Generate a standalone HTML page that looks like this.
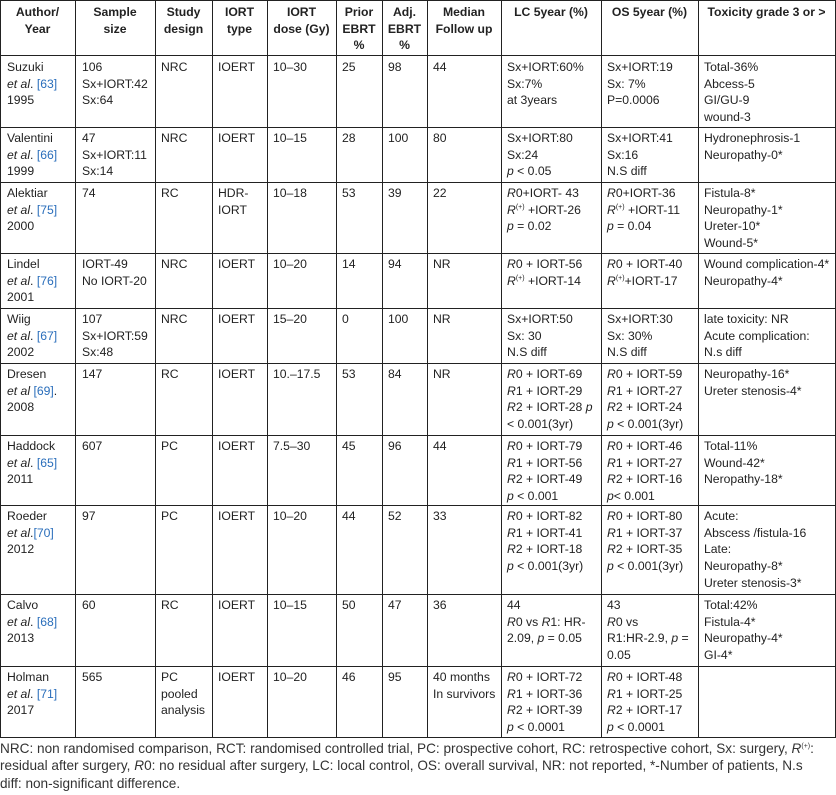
<!DOCTYPE html>
<html><head><meta charset="utf-8">
<style>
html,body{margin:0;padding:0;background:#fff;}
#w{position:relative;width:836px;height:795px;overflow:hidden;font-family:"Liberation Sans",Arial,sans-serif;font-size:12.2px;line-height:16.7px;color:#222;}
.v{position:absolute;top:0;height:738px;width:1px;background:#222;}
.h{position:absolute;left:0;width:836px;height:1px;background:#222;}
.c{position:absolute;white-space:nowrap;}
.hd{font-weight:bold;text-align:center;}
a{color:#2a6ebb;text-decoration:none;}
i{font-style:italic;}
sup{font-size:7px;line-height:0;vertical-align:5px;}
#fn{position:absolute;left:0;top:740px;font-size:13.6px;line-height:17.4px;color:#333;white-space:nowrap;}
</style></head><body><div id="w">
<div class="v" style="left:0"></div><div class="v" style="left:75px"></div><div class="v" style="left:155px"></div><div class="v" style="left:212px"></div><div class="v" style="left:267px"></div><div class="v" style="left:336px"></div><div class="v" style="left:382px"></div><div class="v" style="left:427px"></div><div class="v" style="left:501px"></div><div class="v" style="left:601px"></div><div class="v" style="left:698px"></div><div class="v" style="left:835px"></div>
<div class="h" style="top:0"></div><div class="h" style="top:55px"></div><div class="h" style="top:127px"></div><div class="h" style="top:182px"></div><div class="h" style="top:253px"></div><div class="h" style="top:308px"></div><div class="h" style="top:363px"></div><div class="h" style="top:435px"></div><div class="h" style="top:505px"></div><div class="h" style="top:594px"></div><div class="h" style="top:666px"></div><div class="h" style="top:737px"></div>

<div class="c hd" style="left:0;width:75px;top:4px">Author/<br>Year</div>
<div class="c hd" style="left:75px;width:80px;top:4px">Sample<br>size</div>
<div class="c hd" style="left:155px;width:57px;top:4px">Study<br>design</div>
<div class="c hd" style="left:212px;width:55px;top:4px">IORT<br>type</div>
<div class="c hd" style="left:267px;width:69px;top:4px">IORT<br>dose (Gy)</div>
<div class="c hd" style="left:336px;width:46px;top:4px">Prior<br>EBRT<br>%</div>
<div class="c hd" style="left:382px;width:45px;top:4px">Adj.<br>EBRT<br>%</div>
<div class="c hd" style="left:427px;width:74px;top:4px">Median<br>Follow up</div>
<div class="c hd" style="left:501px;width:100px;top:4px">LC 5year (%)</div>
<div class="c hd" style="left:601px;width:97px;top:4px">OS 5year (%)</div>
<div class="c hd" style="left:698px;width:137px;top:4px">Toxicity grade 3 or &gt;</div>

<div class="c" style="left:7px;top:59px">Suzuki<br><i>et al</i>. <a>[63]</a><br>1995</div>
<div class="c" style="left:82px;top:59px">106<br>Sx+IORT:42<br>Sx:64</div>
<div class="c" style="left:161px;top:59px">NRC</div>
<div class="c" style="left:218px;top:59px">IOERT</div>
<div class="c" style="left:273px;top:59px">10–30</div>
<div class="c" style="left:342px;top:59px">25</div>
<div class="c" style="left:388px;top:59px">98</div>
<div class="c" style="left:433px;top:59px">44</div>
<div class="c" style="left:507px;top:59px">Sx+IORT:60%<br>Sx:7%<br>at 3years</div>
<div class="c" style="left:607px;top:59px">Sx+IORT:19<br>Sx: 7%<br>P=0.0006</div>
<div class="c" style="left:704px;top:59px">Total-36%<br>Abcess-5<br>GI/GU-9<br>wound-3</div>

<div class="c" style="left:7px;top:130px">Valentini<br><i>et al</i>. <a>[66]</a><br>1999</div>
<div class="c" style="left:82px;top:130px">47<br>Sx+IORT:11<br>Sx:14</div>
<div class="c" style="left:161px;top:130px">NRC</div>
<div class="c" style="left:218px;top:130px">IOERT</div>
<div class="c" style="left:273px;top:130px">10–15</div>
<div class="c" style="left:342px;top:130px">28</div>
<div class="c" style="left:388px;top:130px">100</div>
<div class="c" style="left:433px;top:130px">80</div>
<div class="c" style="left:507px;top:130px">Sx+IORT:80<br>Sx:24<br><i>p</i> &lt; 0.05</div>
<div class="c" style="left:607px;top:130px">Sx+IORT:41<br>Sx:16<br>N.S diff</div>
<div class="c" style="left:704px;top:130px">Hydronephrosis-1<br>Neuropathy-0*</div>

<div class="c" style="left:7px;top:185px">Alektiar<br><i>et al</i>. <a>[75]</a><br>2000</div>
<div class="c" style="left:82px;top:185px">74</div>
<div class="c" style="left:161px;top:185px">RC</div>
<div class="c" style="left:218px;top:185px">HDR-<br>IORT</div>
<div class="c" style="left:273px;top:185px">10–18</div>
<div class="c" style="left:342px;top:185px">53</div>
<div class="c" style="left:388px;top:185px">39</div>
<div class="c" style="left:433px;top:185px">22</div>
<div class="c" style="left:507px;top:185px"><i>R</i>0+IORT- 43<br><i>R</i><sup>(+)</sup> +IORT-26<br><i>p</i> = 0.02</div>
<div class="c" style="left:607px;top:185px"><i>R</i>0+IORT-36<br><i>R</i><sup>(+)</sup> +IORT-11<br><i>p</i> = 0.04</div>
<div class="c" style="left:704px;top:185px">Fistula-8*<br>Neuropathy-1*<br>Ureter-10*<br>Wound-5*</div>

<div class="c" style="left:7px;top:256px">Lindel<br><i>et al</i>. <a>[76]</a><br>2001</div>
<div class="c" style="left:82px;top:256px">IORT-49<br>No IORT-20</div>
<div class="c" style="left:161px;top:256px">NRC</div>
<div class="c" style="left:218px;top:256px">IOERT</div>
<div class="c" style="left:273px;top:256px">10–20</div>
<div class="c" style="left:342px;top:256px">14</div>
<div class="c" style="left:388px;top:256px">94</div>
<div class="c" style="left:433px;top:256px">NR</div>
<div class="c" style="left:507px;top:256px"><i>R</i>0 + IORT-56<br><i>R</i><sup>(+)</sup> +IORT-14</div>
<div class="c" style="left:607px;top:256px"><i>R</i>0 + IORT-40<br><i>R</i><sup>(+)</sup>+IORT-17</div>
<div class="c" style="left:704px;top:256px">Wound complication-4*<br>Neuropathy-4*</div>

<div class="c" style="left:7px;top:311px">Wiig<br><i>et al</i>. <a>[67]</a><br>2002</div>
<div class="c" style="left:82px;top:311px">107<br>Sx+IORT:59<br>Sx:48</div>
<div class="c" style="left:161px;top:311px">NRC</div>
<div class="c" style="left:218px;top:311px">IOERT</div>
<div class="c" style="left:273px;top:311px">15–20</div>
<div class="c" style="left:342px;top:311px">0</div>
<div class="c" style="left:388px;top:311px">100</div>
<div class="c" style="left:433px;top:311px">NR</div>
<div class="c" style="left:507px;top:311px">Sx+IORT:50<br>Sx: 30<br>N.S diff</div>
<div class="c" style="left:607px;top:311px">Sx+IORT:30<br>Sx: 30%<br>N.S diff</div>
<div class="c" style="left:704px;top:311px">late toxicity: NR<br>Acute complication:<br>N.s diff</div>

<div class="c" style="left:7px;top:366px">Dresen<br><i>et al</i> <a>[69]</a>.<br>2008</div>
<div class="c" style="left:82px;top:366px">147</div>
<div class="c" style="left:161px;top:366px">RC</div>
<div class="c" style="left:218px;top:366px">IOERT</div>
<div class="c" style="left:273px;top:366px">10.–17.5</div>
<div class="c" style="left:342px;top:366px">53</div>
<div class="c" style="left:388px;top:366px">84</div>
<div class="c" style="left:433px;top:366px">NR</div>
<div class="c" style="left:507px;top:366px"><i>R</i>0 + IORT-69<br><i>R</i>1 + IORT-29<br><i>R</i>2 + IORT-28 <i>p</i><br>&lt; 0.001(3yr)</div>
<div class="c" style="left:607px;top:366px"><i>R</i>0 + IORT-59<br><i>R</i>1 + IORT-27<br><i>R</i>2 + IORT-24<br><i>p</i> &lt; 0.001(3yr)</div>
<div class="c" style="left:704px;top:366px">Neuropathy-16*<br>Ureter stenosis-4*</div>

<div class="c" style="left:7px;top:438px">Haddock<br><i>et al</i>. <a>[65]</a><br>2011</div>
<div class="c" style="left:82px;top:438px">607</div>
<div class="c" style="left:161px;top:438px">PC</div>
<div class="c" style="left:218px;top:438px">IOERT</div>
<div class="c" style="left:273px;top:438px">7.5–30</div>
<div class="c" style="left:342px;top:438px">45</div>
<div class="c" style="left:388px;top:438px">96</div>
<div class="c" style="left:433px;top:438px">44</div>
<div class="c" style="left:507px;top:438px"><i>R</i>0 + IORT-79<br><i>R</i>1 + IORT-56<br><i>R</i>2 + IORT-49<br><i>p</i> &lt; 0.001</div>
<div class="c" style="left:607px;top:438px"><i>R</i>0 + IORT-46<br><i>R</i>1 + IORT-27<br><i>R</i>2 + IORT-16<br><i>p</i>&lt; 0.001</div>
<div class="c" style="left:704px;top:438px">Total-11%<br>Wound-42*<br>Neropathy-18*</div>

<div class="c" style="left:7px;top:508px">Roeder<br><i>et al</i>.<a>[70]</a><br>2012</div>
<div class="c" style="left:82px;top:508px">97</div>
<div class="c" style="left:161px;top:508px">PC</div>
<div class="c" style="left:218px;top:508px">IOERT</div>
<div class="c" style="left:273px;top:508px">10–20</div>
<div class="c" style="left:342px;top:508px">44</div>
<div class="c" style="left:388px;top:508px">52</div>
<div class="c" style="left:433px;top:508px">33</div>
<div class="c" style="left:507px;top:508px"><i>R</i>0 + IORT-82<br><i>R</i>1 + IORT-41<br><i>R</i>2 + IORT-18<br><i>p</i> &lt; 0.001(3yr)</div>
<div class="c" style="left:607px;top:508px"><i>R</i>0 + IORT-80<br><i>R</i>1 + IORT-37<br><i>R</i>2 + IORT-35<br><i>p</i> &lt; 0.001(3yr)</div>
<div class="c" style="left:704px;top:508px">Acute:<br>Abscess /fistula-16<br>Late:<br>Neuropathy-8*<br>Ureter stenosis-3*</div>

<div class="c" style="left:7px;top:597px">Calvo<br><i>et al</i>. <a>[68]</a><br>2013</div>
<div class="c" style="left:82px;top:597px">60</div>
<div class="c" style="left:161px;top:597px">RC</div>
<div class="c" style="left:218px;top:597px">IOERT</div>
<div class="c" style="left:273px;top:597px">10–15</div>
<div class="c" style="left:342px;top:597px">50</div>
<div class="c" style="left:388px;top:597px">47</div>
<div class="c" style="left:433px;top:597px">36</div>
<div class="c" style="left:507px;top:597px">44<br><i>R</i>0 vs <i>R</i>1: HR-<br>2.09, <i>p</i> = 0.05</div>
<div class="c" style="left:607px;top:597px">43<br><i>R</i>0 vs<br>R1:HR-2.9, <i>p</i> =<br>0.05</div>
<div class="c" style="left:704px;top:597px">Total:42%<br>Fistula-4*<br>Neuropathy-4*<br>GI-4*</div>

<div class="c" style="left:7px;top:669px">Holman<br><i>et al</i>. <a>[71]</a><br>2017</div>
<div class="c" style="left:82px;top:669px">565</div>
<div class="c" style="left:161px;top:669px">PC<br>pooled<br>analysis</div>
<div class="c" style="left:218px;top:669px">IOERT</div>
<div class="c" style="left:273px;top:669px">10–20</div>
<div class="c" style="left:342px;top:669px">46</div>
<div class="c" style="left:388px;top:669px">95</div>
<div class="c" style="left:433px;top:669px">40 months<br>In survivors</div>
<div class="c" style="left:507px;top:669px"><i>R</i>0 + IORT-72<br><i>R</i>1 + IORT-36<br><i>R</i>2 + IORT-39<br><i>p</i> &lt; 0.0001</div>
<div class="c" style="left:607px;top:669px"><i>R</i>0 + IORT-48<br><i>R</i>1 + IORT-25<br><i>R</i>2 + IORT-17<br><i>p</i> &lt; 0.0001</div>

<div id="fn">NRC: non randomised comparison, RCT: randomised controlled trial, PC: prospective cohort, RC: retrospective cohort, Sx: surgery, <i>R</i><sup>(+)</sup>:<br>residual after surgery, <i>R</i>0: no residual after surgery, LC: local control, OS: overall survival, NR: not reported, *-Number of patients, N.s<br>diff: non-significant difference.</div>
</div></body></html>
